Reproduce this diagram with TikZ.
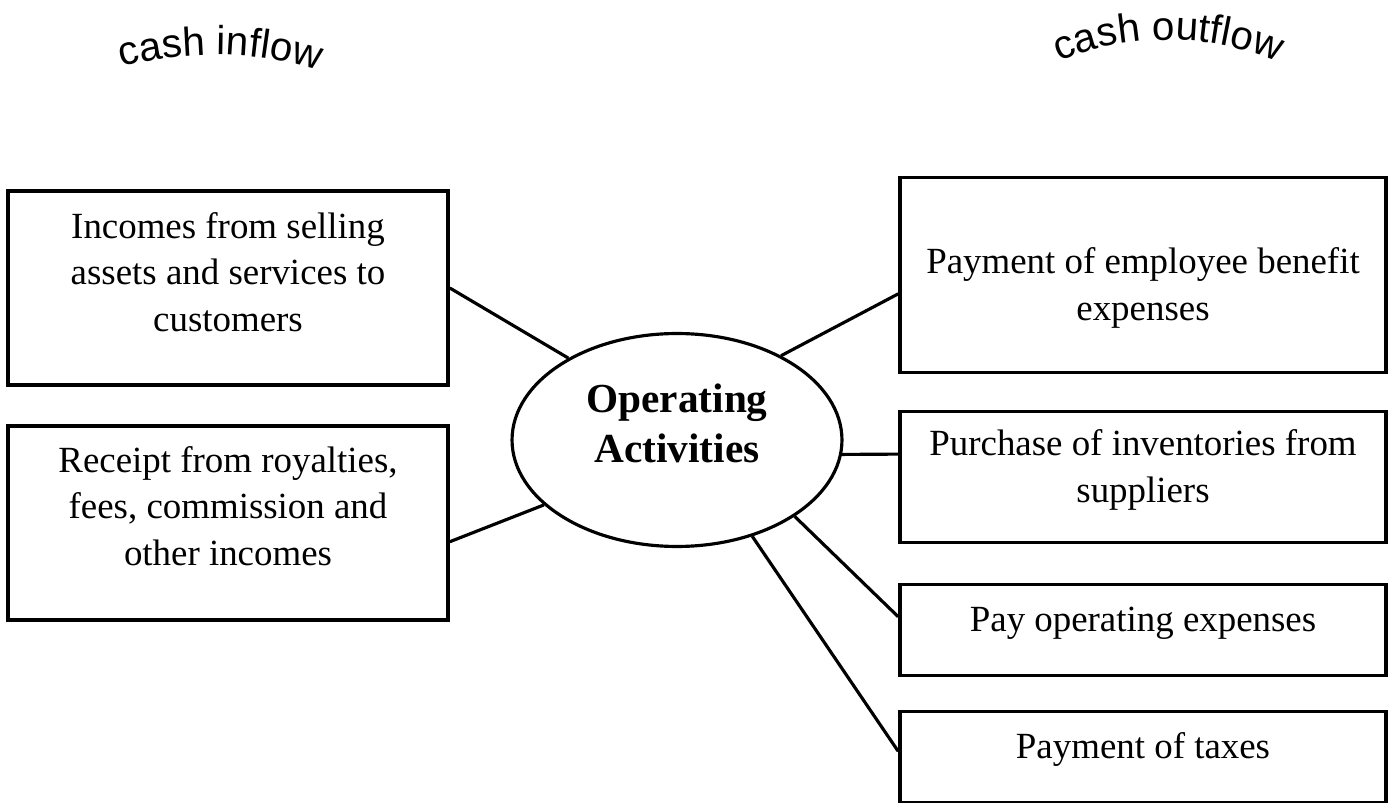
\documentclass[tikz,border=0pt]{standalone}
\usepackage{fontspec}
\setmainfont{Liberation Serif}
\newfontfamily\flowfont{Liberation Sans}
\usetikzlibrary{shapes.geometric,calc,decorations.text}

\begin{document}
\begin{tikzpicture}[x=0.02cm, y=-0.02cm,
    inbox/.style ={draw, line width=2.1pt, minimum width=8.8cm, minimum height=3.87cm},
    outbox/.style ={draw, line width=2.1pt, minimum width=9.72cm},
    boxtext/.style ={align=center, font=\fontsize{21}{26.5}\selectfont},
    link/.style ={line width=1.8pt}]
   \useasboundingbox (0,0) rectangle (1393,803);
   % centre
   \node[ellipse, draw, line width=1.8pt, minimum width=6.6cm, minimum height=4.26cm] (op) at (677,440) {};
   \node[align=center, font=\bfseries\fontsize{23.5}{28.4}\selectfont] (opText) at (677,423) {Operating\\Activities};
   % cash inflow
   \node[inbox] (inA) at (228,288) {};
   \node[inbox] (inB) at (228,523) {};
   \node[boxtext] (inAText) at (228,272) {Incomes from selling\\assets and services to\\customers};
   \node[boxtext] (inBText) at (228,506) {Receipt from royalties,\\fees, commission and\\other incomes};
   % cash outflow
   \node[outbox, minimum height=3.9cm] (outA) at (1143,275) {};
   \node[outbox, minimum height=2.62cm] (outB) at (1143,477) {};
   \node[outbox, minimum height=1.82cm] (outC) at (1143,630) {};
   \node[outbox, minimum height=1.82cm] (outD) at (1143,757) {};
   \node[boxtext] (outAText) at (1143,288) {Payment of employee benefit\\expenses};
   \node[boxtext] (outBText) at (1143,470) {Purchase of inventories from\\suppliers};
   \node[boxtext] (outCText) at (1143,623) {Pay operating expenses};
   \node[boxtext] (outDText) at (1143,749) {Payment of taxes};
   % headings
   \path[decorate, decoration={text along path, text align=center,
      text={|\flowfont\fontsize{23}{23}\selectfont|cash inflow}}]
      (118,68) .. controls (185,50) and (255,50) .. (322,72);
   \path[decorate, decoration={text along path, text align=center,
      text={|\flowfont\fontsize{23}{23}\selectfont|cash outflow}}]
      (1055,64) .. controls (1120,32) and (1215,32) .. (1282,64);
   % links
   \draw[link] (inA.east) -- (op.143.8);
   \draw[link] ($(inB.north east)!0.595!(inB.south east)$) -- (op.206.4);
   \draw[link] ($(outA.north west)!0.595!(outA.south west)$) -- (op.39.5);
   \draw[link] ($(outB.north west)!0.33!(outB.south west)$) -- (op.-5.2);
   \draw[link] ($(outC.north west)!0.36!(outC.south west)$) -- (op.-33.2);
   \draw[link] ($(outD.north west)!0.44!(outD.south west)$) -- (op.-52.8);
\end{tikzpicture}
\end{document}
